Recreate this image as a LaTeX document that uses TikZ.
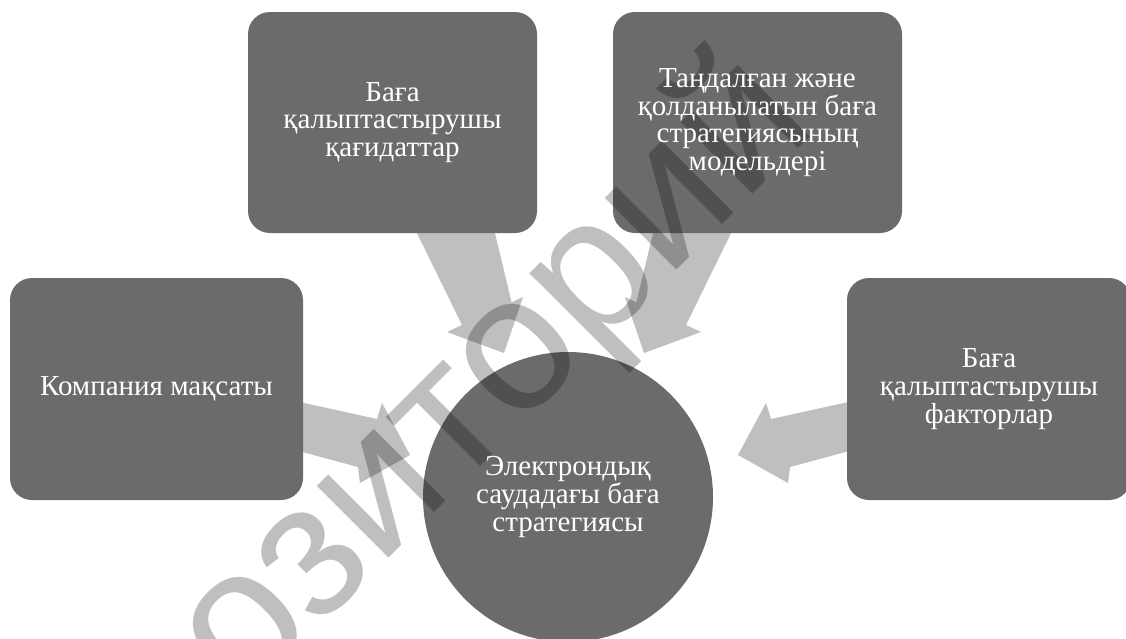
\documentclass[tikz,border=0pt]{standalone}
\usepackage{fontspec}
\setmainfont{Liberation Serif}
\newfontfamily\wmfont{Liberation Sans}
\definecolor{boxgray}{HTML}{6B6B6B}
\definecolor{arrowgray}{HTML}{BFBFBF}
\tikzset{
  box/.style={fill=boxgray, draw=none, rounded corners=22pt, inner sep=0pt},
  hub/.style={circle, fill=boxgray, draw=none, inner sep=0pt, minimum size=290pt},
  boxtext/.style={text=white, align=center, inner sep=0pt, font=\fontsize{29}{27.8}\selectfont},
  blockarrow/.style={fill=arrowgray, draw=none},
  wmark/.style={rotate=45, anchor=base west, inner sep=0pt, text=black, text opacity=0.25,
    font=\wmfont\fontsize{192}{192}\selectfont}
}
\begin{document}
\begin{tikzpicture}[x=1pt,y=-1pt]
\path[use as bounding box, fill=white] (0,0) rectangle (1126,638);
% block arrows
\fill[blockarrow] (413,225) -- (462,325) -- (447,332) -- (504,353) -- (523,297) -- (511.6,302.3) -- (493,225) -- cycle;
\fill[blockarrow] (735,225) -- (686,325) -- (701,332) -- (644,353) -- (625,297) -- (636.4,302.3) -- (655,225) -- cycle;
\fill[blockarrow] (295,401) -- (377,419) -- (382,403) -- (410,455) -- (360,483) -- (358,467) -- (295,450) -- cycle;
\fill[blockarrow] (853,401) -- (771,419) -- (766,403) -- (738,455) -- (788,483) -- (790,467) -- (853,450) -- cycle;
% shapes
\node[box, minimum width=289pt, minimum height=221pt] (b1) at (392.5,122.5) {};
\node[box, minimum width=289pt, minimum height=221pt] (b2) at (757.5,122.5) {};
\node[box, minimum width=293pt, minimum height=222pt] (b3) at (156.5,389) {};
\node[box, minimum width=284pt, minimum height=222pt] (b4) at (989,389) {};
\node[hub] (c) at (568,497) {};
% watermark
\begin{scope}
\clip (0,0) rectangle (1126,638);
\node[wmark] (wm) at (10,937) {Репозиторий};
\end{scope}
% texts
\node[boxtext] (t1) at (b1.center) {Баға\\қалыптастырушы\\қағидаттар};
\node[boxtext] (t2) at (b2.center) {Таңдалған және\\қолданылатын баға\\стратегиясының\\модельдері};
\node[boxtext] (t3) at (b3.center) {Компания мақсаты};
\node[boxtext] (t4) at (b4.center) {Баға\\қалыптастырушы\\факторлар};
\node[boxtext] (t5) at (c.center) {Электрондық\\саудадағы баға\\стратегиясы};
\end{tikzpicture}
\end{document}
